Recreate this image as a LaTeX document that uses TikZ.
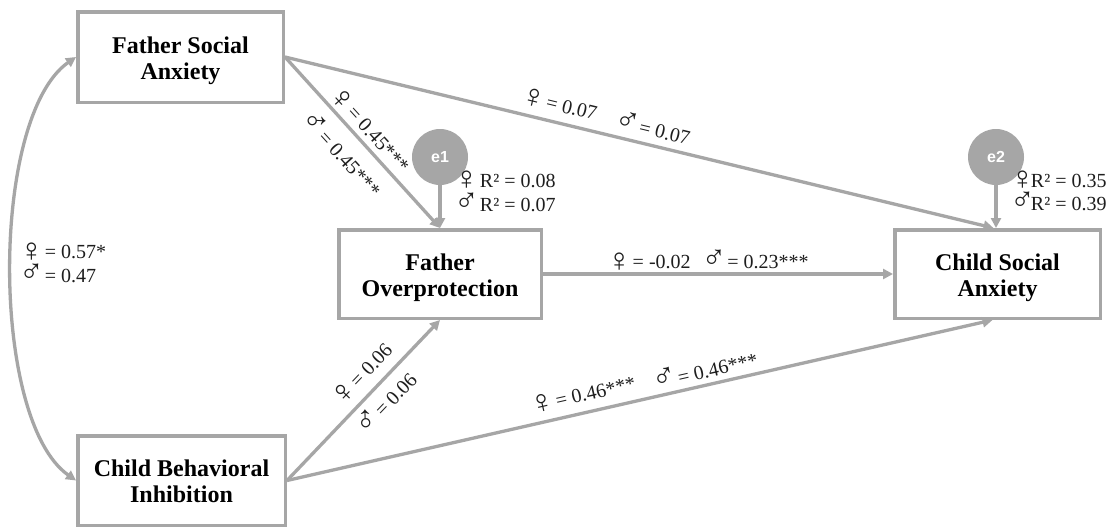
\documentclass[tikz,border=0pt]{standalone}
\usepackage{fontspec}
\setmainfont{Liberation Serif}
\newfontfamily\circfont{Liberation Sans}
\newfontfamily\symfont{Liberation Serif}[Scale=1.65]
\newcommand{\femsym}{\raisebox{-2.5pt}{\symfont ♀}\kern-4pt}
\newcommand{\malsym}{{\symfont ♂}\kern-4pt}
\newcommand{\twoline}[2]{\raisebox{-4pt}[\height][\depth]{\begin{tabular}{@{}c@{}}#1\\#2\end{tabular}}}
\usetikzlibrary{arrows.meta}
\definecolor{linegray}{HTML}{A6A6A6}
\definecolor{labtext}{HTML}{1E1E1E}
\begin{document}
\begin{tikzpicture}[x=1pt,y=-1pt,
  >={Triangle[length=10pt,width=10pt]},
  varbox/.style={draw=linegray,line width=3.5pt,fill=white,inner sep=0pt,text=black,font=\fontsize{24}{26}\selectfont\bfseries},
  errc/.style={circle,fill=linegray,minimum size=56pt,inner sep=0pt,text=white,font=\circfont\bfseries\fontsize{16}{16}\selectfont},
  conn/.style={draw=linegray,line width=3.3pt,->},
  lab/.style={text=labtext,font=\fontsize{20}{22}\selectfont,inner xsep=0pt},
  freelab/.style={text=labtext,font=\fontsize{20}{22}\selectfont,inner sep=0pt,anchor=base west}
]
\useasboundingbox (0,0) rectangle (1113,530);
\fill[white] (0,0) rectangle (1113,530);
\node[varbox,minimum width=205.5pt,minimum height=90.5pt] (fsa) at (180.5,57) {\twoline{Father Social}{Anxiety}};
\node[varbox,minimum width=202.5pt,minimum height=88.5pt] (fo) at (440,274) {\twoline{Father}{Overprotection}};
\node[varbox,minimum width=205.5pt,minimum height=88.5pt] (csa) at (997.5,274) {\twoline{Child Social}{Anxiety}};
\node[varbox,minimum width=207.5pt,minimum height=89.5pt] (cbi) at (181.5,480.5) {\twoline{Child Behavioral}{Inhibition}};
\node[errc] (e1) at (440,157) {e1};
\node[errc] (e2) at (996,157) {e2};

\draw[conn] (e1) -- (fo.north);
\draw[conn] (e2) -- (e2 |- csa.north);
\draw[conn] (fsa.east) -- (fo.north)
  node[lab,sloped,pos=0.48,anchor=south,inner ysep=3pt] (l1f) {\femsym{} = 0.45***}
  node[lab,sloped,pos=0.475,anchor=north,inner ysep=10.5pt] (l1m) {\malsym{} = 0.45***};
\draw[conn] (fsa.east) -- ([xshift=-4pt]csa.north)
  node[lab,sloped,pos=0.381,anchor=south,inner ysep=7pt] (l2f) {\femsym{} = 0.07}
  node[lab,sloped,pos=0.513,anchor=south,inner ysep=7pt] (l2m) {\malsym{} = 0.07};
\draw[conn] (fo.east) -- (csa.west)
  node[lab,pos=0.471,anchor=south,inner ysep=1pt] (l3) {\femsym{} = -0.02\hspace{11pt}\malsym{} = 0.23***};
\draw[conn] (cbi.east) -- (fo.south)
  node[lab,sloped,pos=0.58,anchor=south,inner ysep=8pt] (l4f) {\femsym{} = 0.06}
  node[lab,sloped,pos=0.56,anchor=north,inner ysep=6pt] (l4m) {\malsym{} = 0.06};
\draw[conn] (cbi.east) -- ([xshift=-5pt]csa.south)
  node[lab,sloped,pos=0.425,anchor=south,inner ysep=7pt] (l5f) {\femsym{} = 0.46***}
  node[lab,sloped,pos=0.597,anchor=south,inner ysep=5pt] (l5m) {\malsym{} = 0.46***};
\draw[conn,<->] (fsa.west) .. controls (-10,117) and (-10,420) .. (cbi.west);

\node[freelab] (r1f) at (454,187) {\femsym{} R² = 0.08};
\node[freelab] (r1m) at (454,211) {\malsym{} R² = 0.07};
\node[freelab] (r2f) at (1010,187) {\femsym{}R² = 0.35};
\node[freelab] (r2m) at (1010,210) {\malsym{}R² = 0.39};
\node[freelab] (cf) at (19,258.5) {\femsym{} = 0.57*};
\node[freelab] (cm) at (19,282) {\malsym{} = 0.47};
\end{tikzpicture}
\end{document}
